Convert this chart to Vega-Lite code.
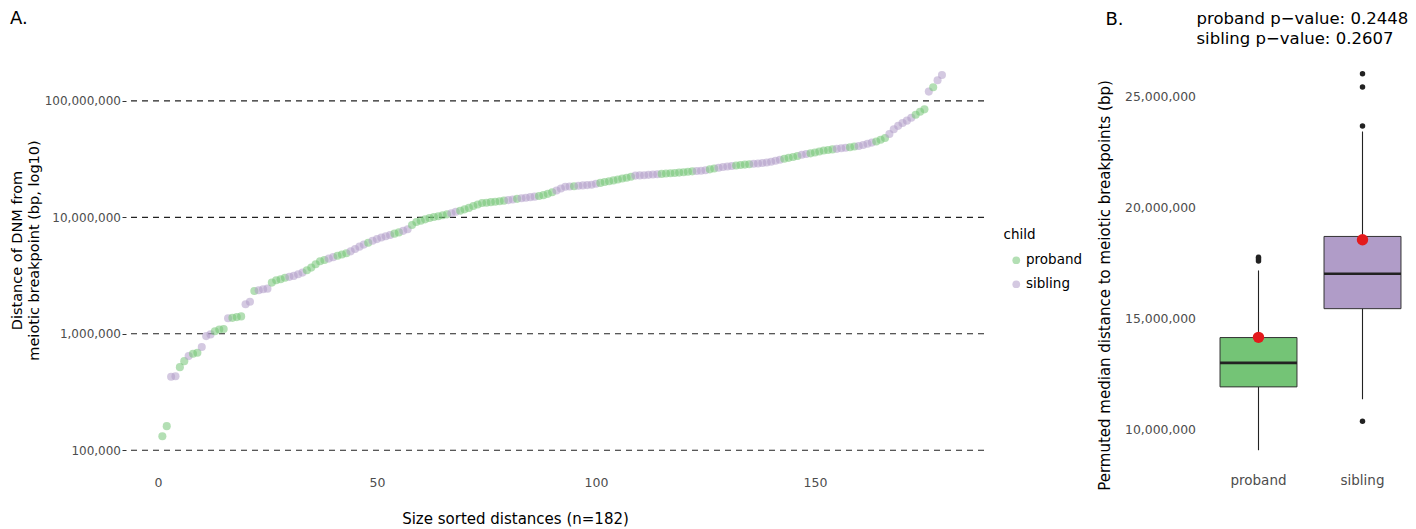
{
  "$schema": "https://vega.github.io/schema/vega-lite/v6.json",
  "padding": {"left": 9, "top": 10, "right": 0, "bottom": 0},
  "bounds": "flush",
  "spacing": 222.5,
  "resolve": {"scale": {"color": "independent"}, "legend": {"color": "independent"}},
  "title": {"text": "B.", "anchor": "start", "frame": "group", "dx": 979.5, "offset": -19, "fontSize": 18},
  "config": {
    "font": "DejaVu Sans",
    "view": {"stroke": null},
    "axis": {"grid": false, "domain": false, "labelColor": "#4d4d4d", "titleColor": "#000000", "titleFontWeight": "normal", "labelFont": "DejaVu Sans", "titleFont": "DejaVu Sans"},
    "title": {"fontWeight": "normal", "font": "DejaVu Sans", "color": "#000000"},
    "legend": {"titleFontSize": 13.5, "labelFontSize": 13.5, "titleFontWeight": "normal", "titleColor": "#000000", "labelColor": "#000000", "symbolSize": 60, "symbolOpacity": 0.55, "symbolStrokeWidth": 0, "symbolType": "circle", "rowPadding": 9, "titlePadding": 12, "labelOffset": 3, "symbolOffset": 6}
  },
  "datasets": {
    "pts": [
      {"rank":1,"distance":132000,"child":"proband"},{"rank":2,"distance":161000,"child":"proband"},{"rank":3,"distance":427000,"child":"sibling"},{"rank":4,"distance":432000,"child":"sibling"},{"rank":5,"distance":517000,"child":"proband"},{"rank":6,"distance":582000,"child":"proband"},{"rank":7,"distance":643000,"child":"sibling"},{"rank":8,"distance":673000,"child":"proband"},{"rank":9,"distance":687000,"child":"proband"},{"rank":10,"distance":769000,"child":"sibling"},
      {"rank":11,"distance":955000,"child":"sibling"},{"rank":12,"distance":988000,"child":"sibling"},{"rank":13,"distance":1050000,"child":"proband"},{"rank":14,"distance":1090000,"child":"proband"},{"rank":15,"distance":1100000,"child":"proband"},{"rank":16,"distance":1360000,"child":"sibling"},{"rank":17,"distance":1370000,"child":"proband"},{"rank":18,"distance":1390000,"child":"proband"},{"rank":19,"distance":1410000,"child":"proband"},{"rank":20,"distance":1790000,"child":"sibling"},
      {"rank":21,"distance":1880000,"child":"sibling"},{"rank":22,"distance":2330000,"child":"proband"},{"rank":23,"distance":2360000,"child":"sibling"},{"rank":24,"distance":2410000,"child":"sibling"},{"rank":25,"distance":2440000,"child":"sibling"},{"rank":26,"distance":2750000,"child":"proband"},{"rank":27,"distance":2880000,"child":"proband"},{"rank":28,"distance":2940000,"child":"proband"},{"rank":29,"distance":3030000,"child":"proband"},{"rank":30,"distance":3080000,"child":"sibling"},
      {"rank":31,"distance":3140000,"child":"sibling"},{"rank":32,"distance":3240000,"child":"sibling"},{"rank":33,"distance":3350000,"child":"sibling"},{"rank":34,"distance":3510000,"child":"proband"},{"rank":35,"distance":3700000,"child":"proband"},{"rank":36,"distance":3950000,"child":"proband"},{"rank":37,"distance":4200000,"child":"proband"},{"rank":38,"distance":4300000,"child":"proband"},{"rank":39,"distance":4420000,"child":"sibling"},{"rank":40,"distance":4550000,"child":"sibling"},
      {"rank":41,"distance":4680000,"child":"proband"},{"rank":42,"distance":4800000,"child":"proband"},{"rank":43,"distance":4920000,"child":"proband"},{"rank":44,"distance":5100000,"child":"sibling"},{"rank":45,"distance":5350000,"child":"sibling"},{"rank":46,"distance":5600000,"child":"sibling"},{"rank":47,"distance":5830000,"child":"sibling"},{"rank":48,"distance":6050000,"child":"proband"},{"rank":49,"distance":6280000,"child":"sibling"},{"rank":50,"distance":6500000,"child":"sibling"},
      {"rank":51,"distance":6700000,"child":"sibling"},{"rank":52,"distance":6880000,"child":"sibling"},{"rank":53,"distance":7050000,"child":"sibling"},{"rank":54,"distance":7240000,"child":"proband"},{"rank":55,"distance":7420000,"child":"proband"},{"rank":56,"distance":7650000,"child":"sibling"},{"rank":57,"distance":7890000,"child":"sibling"},{"rank":58,"distance":8600000,"child":"proband"},{"rank":59,"distance":9100000,"child":"proband"},{"rank":60,"distance":9350000,"child":"proband"},
      {"rank":61,"distance":9600000,"child":"proband"},{"rank":62,"distance":9850000,"child":"proband"},{"rank":63,"distance":10050000,"child":"proband"},{"rank":64,"distance":10200000,"child":"proband"},{"rank":65,"distance":10400000,"child":"proband"},{"rank":66,"distance":10600000,"child":"proband"},{"rank":67,"distance":10850000,"child":"sibling"},{"rank":68,"distance":11150000,"child":"sibling"},{"rank":69,"distance":11400000,"child":"proband"},{"rank":70,"distance":11700000,"child":"proband"},
      {"rank":71,"distance":12050000,"child":"proband"},{"rank":72,"distance":12500000,"child":"proband"},{"rank":73,"distance":12900000,"child":"proband"},{"rank":74,"distance":13250000,"child":"proband"},{"rank":75,"distance":13350000,"child":"proband"},{"rank":76,"distance":13500000,"child":"proband"},{"rank":77,"distance":13600000,"child":"proband"},{"rank":78,"distance":13750000,"child":"proband"},{"rank":79,"distance":13900000,"child":"proband"},{"rank":80,"distance":14050000,"child":"sibling"},
      {"rank":81,"distance":14200000,"child":"sibling"},{"rank":82,"distance":14400000,"child":"proband"},{"rank":83,"distance":14550000,"child":"sibling"},{"rank":84,"distance":14700000,"child":"sibling"},{"rank":85,"distance":14900000,"child":"sibling"},{"rank":86,"distance":15050000,"child":"sibling"},{"rank":87,"distance":15250000,"child":"proband"},{"rank":88,"distance":15500000,"child":"proband"},{"rank":89,"distance":15900000,"child":"proband"},{"rank":90,"distance":16400000,"child":"proband"},
      {"rank":91,"distance":17000000,"child":"sibling"},{"rank":92,"distance":17700000,"child":"sibling"},{"rank":93,"distance":18300000,"child":"sibling"},{"rank":94,"distance":18400000,"child":"sibling"},{"rank":95,"distance":18500000,"child":"proband"},{"rank":96,"distance":18650000,"child":"sibling"},{"rank":97,"distance":18800000,"child":"sibling"},{"rank":98,"distance":18900000,"child":"sibling"},{"rank":99,"distance":19050000,"child":"sibling"},{"rank":100,"distance":19400000,"child":"sibling"},
      {"rank":101,"distance":19750000,"child":"proband"},{"rank":102,"distance":20100000,"child":"proband"},{"rank":103,"distance":20400000,"child":"proband"},{"rank":104,"distance":20750000,"child":"proband"},{"rank":105,"distance":21100000,"child":"proband"},{"rank":106,"distance":21500000,"child":"proband"},{"rank":107,"distance":21900000,"child":"proband"},{"rank":108,"distance":22300000,"child":"proband"},{"rank":109,"distance":22800000,"child":"sibling"},{"rank":110,"distance":22900000,"child":"sibling"},
      {"rank":111,"distance":23000000,"child":"sibling"},{"rank":112,"distance":23150000,"child":"sibling"},{"rank":113,"distance":23300000,"child":"sibling"},{"rank":114,"distance":23450000,"child":"sibling"},{"rank":115,"distance":23600000,"child":"proband"},{"rank":116,"distance":23750000,"child":"proband"},{"rank":117,"distance":23900000,"child":"proband"},{"rank":118,"distance":24050000,"child":"proband"},{"rank":119,"distance":24200000,"child":"proband"},{"rank":120,"distance":24400000,"child":"proband"},
      {"rank":121,"distance":24600000,"child":"proband"},{"rank":122,"distance":24800000,"child":"proband"},{"rank":123,"distance":24950000,"child":"sibling"},{"rank":124,"distance":25150000,"child":"sibling"},{"rank":125,"distance":25400000,"child":"sibling"},{"rank":126,"distance":25800000,"child":"proband"},{"rank":127,"distance":26200000,"child":"proband"},{"rank":128,"distance":26600000,"child":"sibling"},{"rank":129,"distance":27000000,"child":"sibling"},{"rank":130,"distance":27300000,"child":"sibling"},
      {"rank":131,"distance":27600000,"child":"sibling"},{"rank":132,"distance":27850000,"child":"proband"},{"rank":133,"distance":28100000,"child":"proband"},{"rank":134,"distance":28350000,"child":"proband"},{"rank":135,"distance":28600000,"child":"proband"},{"rank":136,"distance":28800000,"child":"sibling"},{"rank":137,"distance":29000000,"child":"sibling"},{"rank":138,"distance":29250000,"child":"sibling"},{"rank":139,"distance":29500000,"child":"sibling"},{"rank":140,"distance":30000000,"child":"sibling"},
      {"rank":141,"distance":30600000,"child":"sibling"},{"rank":142,"distance":31200000,"child":"sibling"},{"rank":143,"distance":31800000,"child":"proband"},{"rank":144,"distance":32400000,"child":"proband"},{"rank":145,"distance":33000000,"child":"proband"},{"rank":146,"distance":33600000,"child":"proband"},{"rank":147,"distance":34400000,"child":"sibling"},{"rank":148,"distance":34900000,"child":"sibling"},{"rank":149,"distance":35400000,"child":"proband"},{"rank":150,"distance":36000000,"child":"proband"},
      {"rank":151,"distance":36700000,"child":"proband"},{"rank":152,"distance":37400000,"child":"proband"},{"rank":153,"distance":37900000,"child":"proband"},{"rank":154,"distance":38300000,"child":"proband"},{"rank":155,"distance":38700000,"child":"sibling"},{"rank":156,"distance":39100000,"child":"sibling"},{"rank":157,"distance":39500000,"child":"sibling"},{"rank":158,"distance":40000000,"child":"proband"},{"rank":159,"distance":40500000,"child":"proband"},{"rank":160,"distance":41000000,"child":"sibling"},
      {"rank":161,"distance":41800000,"child":"sibling"},{"rank":162,"distance":42800000,"child":"sibling"},{"rank":163,"distance":43800000,"child":"sibling"},{"rank":164,"distance":44700000,"child":"proband"},{"rank":165,"distance":46300000,"child":"proband"},{"rank":166,"distance":47900000,"child":"proband"},{"rank":167,"distance":52000000,"child":"sibling"},{"rank":168,"distance":57000000,"child":"sibling"},{"rank":169,"distance":61000000,"child":"sibling"},{"rank":170,"distance":64500000,"child":"sibling"},
      {"rank":171,"distance":67600000,"child":"sibling"},{"rank":172,"distance":71700000,"child":"sibling"},{"rank":173,"distance":76000000,"child":"proband"},{"rank":174,"distance":80500000,"child":"proband"},{"rank":175,"distance":84500000,"child":"proband"},{"rank":176,"distance":120000000,"child":"sibling"},{"rank":177,"distance":131000000,"child":"proband"},{"rank":178,"distance":150000000,"child":"sibling"},{"rank":179,"distance":167000000,"child":"sibling"}
    ],
    "hl": [{"distance":100000},{"distance":1000000},{"distance":10000000},{"distance":100000000}],
    "box": [
      {"child":"proband","lower":9060000,"q1":11910000,"median":12990000,"q3":14130000,"upper":17150000},
      {"child":"sibling","lower":11350000,"q1":15430000,"median":17000000,"q3":18680000,"upper":23400000}
    ],
    "out": [
      {"child":"proband","value":17580000},{"child":"proband","value":17660000},{"child":"proband","value":17740000},
      {"child":"sibling","value":10360000},{"child":"sibling","value":23650000},{"child":"sibling","value":25400000},{"child":"sibling","value":26000000}
    ],
    "obs": [{"child":"proband","value":14140000},{"child":"sibling","value":18530000}]
  },
  "hconcat": [
    {
      "width": 858,
      "height": 413,
      "title": {"text": "A.", "anchor": "start", "frame": "group", "dx": -116, "fontSize": 18, "offset": 28},
      "layer": [
        {
          "data": {"name": "hl"},
          "mark": {"type": "rule", "strokeDash": [6, 5], "color": "#222222", "strokeWidth": 1.2},
          "encoding": {
            "y": {"field": "distance", "type": "quantitative",
              "scale": {"type": "log", "domain": [69000, 242700000], "nice": false},
              "axis": {"values": [100000, 1000000, 10000000, 100000000], "format": ",", "tickSize": 4, "tickColor": "#333333", "labelPadding": 1.5, "labelFontSize": 12, "title": ["Distance of DNM from", "meiotic breakpoint (bp, log10)"], "titleFontSize": 14.5, "titleLineHeight": 17, "titleY": 194, "titlePadding": 2.5}}
          }
        },
        {
          "data": {"name": "pts"},
          "mark": {"type": "circle", "size": 65, "opacity": 0.55},
          "encoding": {
            "x": {"field": "rank", "type": "quantitative",
              "scale": {"domain": [-7.3, 188.6], "nice": false, "zero": false},
              "axis": {"values": [0, 50, 100, 150], "ticks": false, "labelPadding": 7, "labelFontSize": 12.5, "title": "Size sorted distances (n=182)", "titleFontSize": 15, "titlePadding": 23, "titleX": 389}},
            "y": {"field": "distance", "type": "quantitative",
              "scale": {"type": "log", "domain": [69000, 242700000], "nice": false},
              "axis": {"values": [100000, 1000000, 10000000, 100000000], "format": ",", "tickSize": 4, "tickColor": "#333333", "labelPadding": 1.5, "labelFontSize": 12, "title": ["Distance of DNM from", "meiotic breakpoint (bp, log10)"], "titleFontSize": 14.5, "titleLineHeight": 17, "titleY": 194, "titlePadding": 2.5}},
            "color": {"field": "child", "type": "nominal", "title": "child",
              "scale": {"domain": ["proband", "sibling"], "range": ["#74c476", "#b09cc8"]},
              "legend": {"orient": "none", "legendX": 877.5, "legendY": 172}}
          }
        }
      ]
    },
    {
      "width": 208,
      "height": 413,
      "title": {"text": ["proband p−value: 0.2448", "sibling p−value: 0.2607"], "anchor": "start", "frame": "group", "dx": -10, "fontSize": 16.5, "lineHeight": 19.5, "offset": 9},
      "encoding": {
        "x": {"field": "child", "type": "nominal",
          "scale": {"domain": ["proband", "sibling"], "paddingInner": 0, "paddingOuter": 0},
          "axis": {"title": null, "ticks": false, "labelPadding": 4, "labelFontSize": 13.5, "labelAngle": 0}}
      },
      "layer": [
        {
          "data": {"name": "box"},
          "mark": {"type": "rule", "color": "#222222", "strokeWidth": 1.1},
          "encoding": {
            "y": {"field": "lower", "type": "quantitative",
              "scale": {"domain": [8215000, 26800000], "nice": false, "zero": false},
              "axis": {"values": [10000000, 15000000, 20000000, 25000000], "format": ",d", "ticks": false, "labelPadding": 11, "labelFontSize": 12.4, "title": "Permuted median distance to meiotic breakpoints (bp)", "titleFontSize": 15, "titleY": 229, "titlePadding": 12}},
            "y2": {"field": "upper"}
          }
        },
        {
          "data": {"name": "box"},
          "mark": {"type": "bar", "width": {"band": 0.74}, "stroke": "#333333", "strokeWidth": 1},
          "encoding": {
            "y": {"field": "q1", "type": "quantitative",
              "scale": {"domain": [8215000, 26800000], "nice": false, "zero": false},
              "axis": {"values": [10000000, 15000000, 20000000, 25000000], "format": ",d", "ticks": false, "labelPadding": 11, "labelFontSize": 12.4, "title": "Permuted median distance to meiotic breakpoints (bp)", "titleFontSize": 15, "titleY": 229, "titlePadding": 12}},
            "y2": {"field": "q3"},
            "color": {"field": "child", "type": "nominal", "legend": null,
              "scale": {"domain": ["proband", "sibling"], "range": ["#74c476", "#b09cc8"]}}
          }
        },
        {
          "data": {"name": "box"},
          "mark": {"type": "tick", "size": 77, "thickness": 2.6, "color": "#222222", "opacity": 1},
          "encoding": {
            "y": {"field": "median", "type": "quantitative",
              "scale": {"domain": [8215000, 26800000], "nice": false, "zero": false},
              "axis": {"values": [10000000, 15000000, 20000000, 25000000], "format": ",d", "ticks": false, "labelPadding": 11, "labelFontSize": 12.4, "title": "Permuted median distance to meiotic breakpoints (bp)", "titleFontSize": 15, "titleY": 229, "titlePadding": 12}}
          }
        },
        {
          "data": {"name": "out"},
          "mark": {"type": "circle", "size": 30, "color": "#222222", "opacity": 1},
          "encoding": {
            "y": {"field": "value", "type": "quantitative",
              "scale": {"domain": [8215000, 26800000], "nice": false, "zero": false},
              "axis": {"values": [10000000, 15000000, 20000000, 25000000], "format": ",d", "ticks": false, "labelPadding": 11, "labelFontSize": 12.4, "title": "Permuted median distance to meiotic breakpoints (bp)", "titleFontSize": 15, "titleY": 229, "titlePadding": 12}}
          }
        },
        {
          "data": {"name": "obs"},
          "mark": {"type": "circle", "size": 130, "color": "#e31a1c", "opacity": 1},
          "encoding": {
            "y": {"field": "value", "type": "quantitative",
              "scale": {"domain": [8215000, 26800000], "nice": false, "zero": false},
              "axis": {"values": [10000000, 15000000, 20000000, 25000000], "format": ",d", "ticks": false, "labelPadding": 11, "labelFontSize": 12.4, "title": "Permuted median distance to meiotic breakpoints (bp)", "titleFontSize": 15, "titleY": 229, "titlePadding": 12}}
          }
        }
      ]
    }
  ]
}
